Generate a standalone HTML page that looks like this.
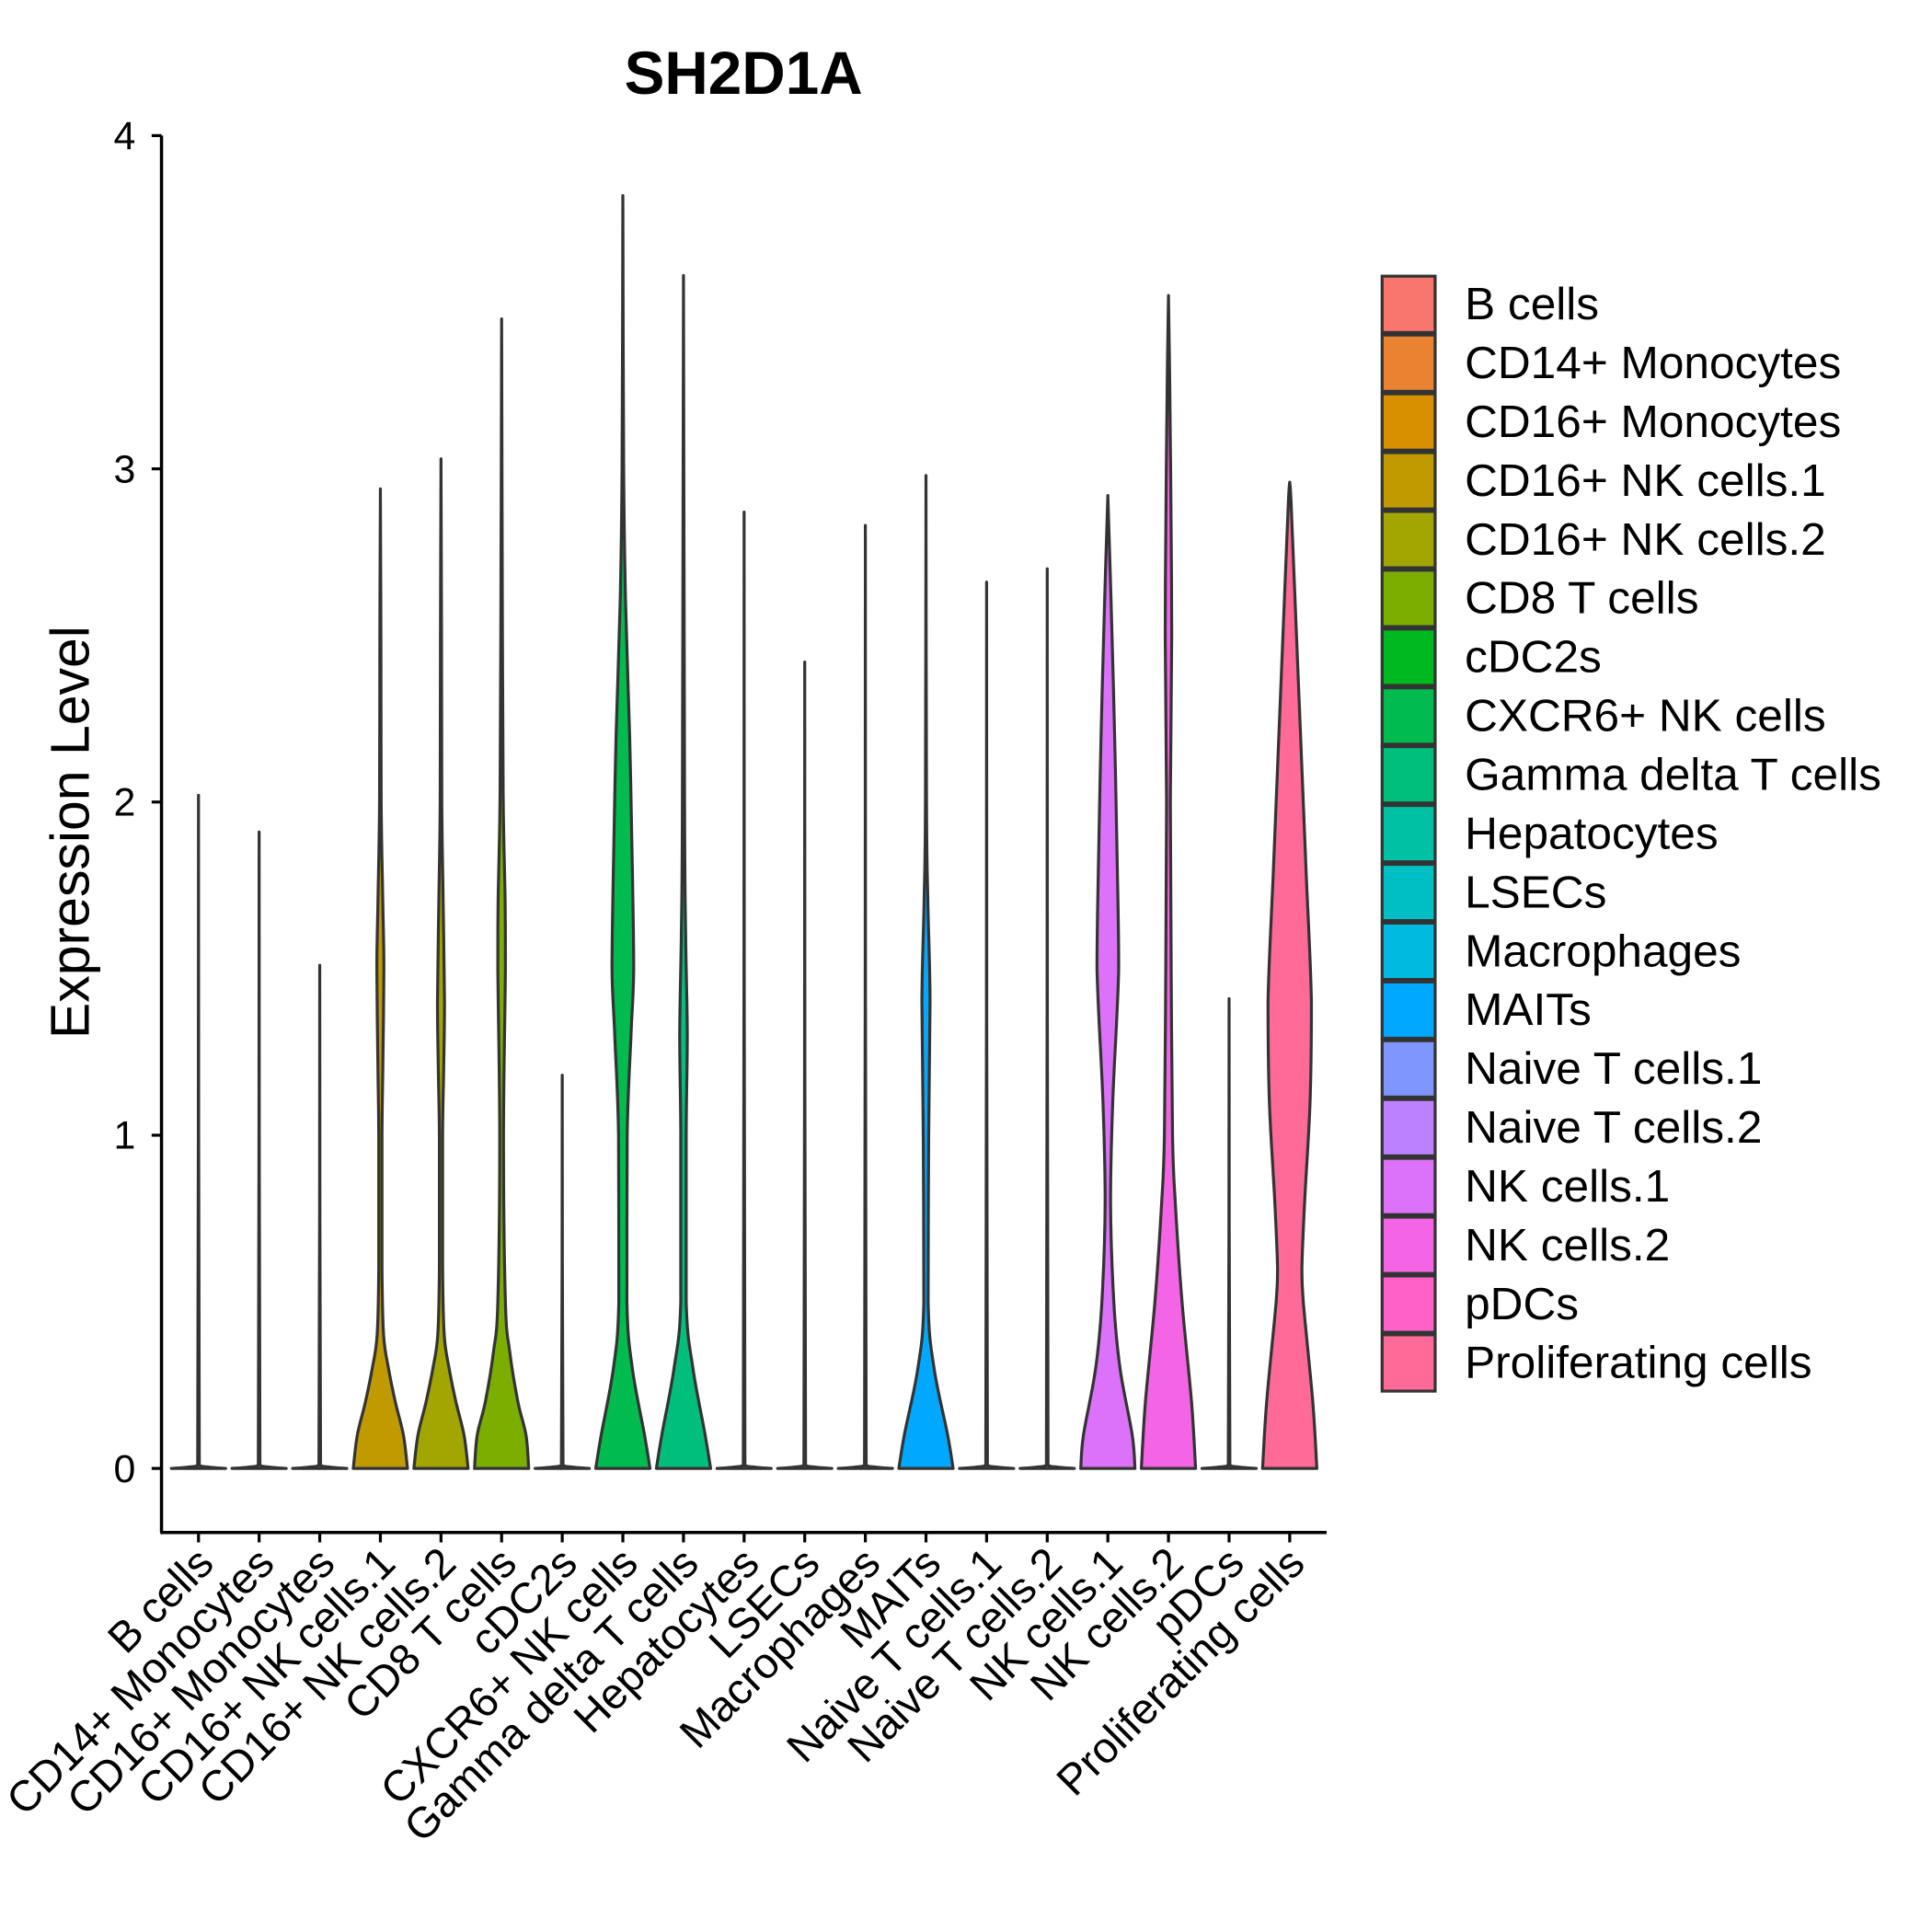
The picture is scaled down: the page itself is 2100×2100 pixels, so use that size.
<!DOCTYPE html>
<html><head><meta charset="utf-8"><style>html,body{margin:0;padding:0;background:#fff}svg{display:block}text{font-family:"Liberation Sans",Arial,sans-serif}</style></head>
<body>
<svg id="chart" width="2100" height="2100" viewBox="0 0 1567 1567" xmlns="http://www.w3.org/2000/svg">
<rect width="1567" height="1567" fill="#fff"/>
<text x="603" y="76" font-size="49" font-weight="bold" text-anchor="middle">SH2D1A</text>
<text transform="translate(72,675) rotate(-90)" font-size="44" text-anchor="middle">Expression Level</text>
<g id="violins"></g>
<g id="axes"></g>
<g id="legend"></g>
</svg>
<script>
const categories=["B cells","CD14+ Monocytes","CD16+ Monocytes","CD16+ NK cells.1","CD16+ NK cells.2","CD8 T cells","cDC2s","CXCR6+ NK cells","Gamma delta T cells","Hepatocytes","LSECs","Macrophages","MAITs","Naive T cells.1","Naive T cells.2","NK cells.1","NK cells.2","pDCs","Proliferating cells"];
const colors=["#F8766D","#EA8331","#D89000","#C09B00","#A3A500","#7CAE00","#00B81F","#00BB4E","#00BF7D","#00C1A3","#00BFC4","#00BAE0","#00A9FF","#7F96FF","#BB81FF","#DC71FA","#F365E4","#FF61C9","#FF6A98"];
const maxValues=[2.02,1.91,1.51,2.94,3.03,3.45,1.18,3.82,3.58,2.87,2.42,2.83,2.98,2.66,2.70,2.92,3.52,1.41,2.96];
const flat=[[0,1],[0.004,0.4],[0.01,0.03]];
const profiles=[
flat,flat,flat,
[[0,1],[0.1,0.85],[0.2,0.55],[0.3,0.3],[0.4,0.12],[0.6,0.06],[1,0.06],[1.2,0.09],[1.5,0.13],[1.7,0.09],[2,0.03],[2.5,0.02]],
[[0,1],[0.1,0.85],[0.2,0.55],[0.3,0.3],[0.4,0.12],[0.6,0.06],[1,0.06],[1.2,0.1],[1.4,0.13],[1.7,0.08],[2,0.03],[2.5,0.02]],
[[0,1],[0.1,0.9],[0.2,0.6],[0.35,0.3],[0.5,0.14],[1,0.07],[1.5,0.14],[1.7,0.13],[2,0.06],[2.5,0.03]],
flat,
[[0,1],[0.1,0.8],[0.3,0.35],[0.5,0.15],[1,0.16],[1.3,0.3],[1.5,0.4],[1.8,0.35],[2.2,0.25],[2.6,0.1],[3,0.03]],
[[0,1],[0.1,0.8],[0.3,0.35],[0.5,0.1],[1,0.1],[1.3,0.14],[1.6,0.08],[2,0.04]],
flat,flat,flat,
[[0,1],[0.1,0.8],[0.3,0.3],[0.5,0.08],[1,0.1],[1.4,0.15],[1.7,0.07],[2,0.02]],
flat,flat,
[[0,1],[0.1,0.9],[0.3,0.45],[0.5,0.22],[0.8,0.1],[1.1,0.18],[1.5,0.4],[1.8,0.35],[2.2,0.25],[2.6,0.12]],
[[0,1],[0.2,0.85],[0.5,0.5],[0.8,0.25],[1,0.15],[1.5,0.1],[2,0.07],[2.5,0.12],[3,0.08],[3.3,0.04]],
flat,
[[0,1],[0.2,0.85],[0.5,0.5],[0.6,0.45],[0.8,0.55],[1.1,0.75],[1.4,0.8],[1.8,0.6],[2.2,0.4],[2.6,0.2],[2.9,0.05]]
];
const yTicks=[0,1,2,3,4];
const NS="http://www.w3.org/2000/svg";
const x0=161,step=49.17,halfW=22;
const xScale=i=>x0+i*step;
const yScale=v=>1191-v*270.25;
function mk(tag,attrs,parent){const e=document.createElementNS(NS,tag);for(const k in attrs)e.setAttribute(k,attrs[k]);parent.appendChild(e);return e;}
const clamp=(v,a,b)=>Math.min(Math.max(v,Math.min(a,b)),Math.max(a,b));
function smoothSide(pts){
  let d="";
  for(let i=0;i<pts.length-1;i++){
    const p0=pts[Math.max(0,i-1)],p1=pts[i],p2=pts[i+1],p3=pts[Math.min(pts.length-1,i+2)];
    const c1=[clamp(p1[0]+(p2[0]-p0[0])/6,p1[0],p2[0]),clamp(p1[1]+(p2[1]-p0[1])/6,p1[1],p2[1])];
    const c2=[clamp(p2[0]-(p3[0]-p1[0])/6,p1[0],p2[0]),clamp(p2[1]-(p3[1]-p1[1])/6,p1[1],p2[1])];
    d+=`C${c1[0].toFixed(2)},${c1[1].toFixed(2)} ${c2[0].toFixed(2)},${c2[1].toFixed(2)} ${p2[0].toFixed(2)},${p2[1].toFixed(2)}`;
  }
  return d;
}
const gv=document.getElementById('violins');
categories.forEach((c,i)=>{
  const pts=profiles[i].concat([[maxValues[i],0]]);
  const cx=xScale(i);
  const right=pts.map(p=>[cx+p[1]*halfW,yScale(p[0])]);
  const left=pts.slice().reverse().map(p=>[cx-p[1]*halfW,yScale(p[0])]);
  const d="M"+right[0][0].toFixed(2)+","+right[0][1].toFixed(2)+smoothSide(right)+smoothSide(left)+"Z";
  const p=mk('path',{d:d,fill:colors[i],stroke:"#333","stroke-width":2.4,"stroke-linejoin":"round"},gv);
  
  
});
const ga=document.getElementById('axes');
const yl=mk('line',{x1:131,y1:110,x2:131,y2:1243,stroke:"#000","stroke-width":2.6},ga);


const xl=mk('line',{x1:130,y1:1243,x2:1076,y2:1243,stroke:"#000","stroke-width":2.6},ga);


yTicks.forEach(t=>{
  const y=yScale(t);
  const l=mk('line',{x1:123,y1:y,x2:131,y2:y,stroke:"#000","stroke-width":2.4},ga);
  
  
  const tx=mk('text',{x:110,y:y+11,"font-size":32,"text-anchor":"end"},ga);
  tx.textContent=t;
  
  
});
categories.forEach((c,i)=>{
  const x=xScale(i);
  const l=mk('line',{x1:x,y1:1243,x2:x,y2:1251,stroke:"#000","stroke-width":2.4},ga);
  
  
  const tx=mk('text',{transform:`translate(${x+14},1270) rotate(-45)`,"font-size":35,"text-anchor":"end"},ga);
  tx.textContent=c;
  
  
});
const gl=document.getElementById('legend');
categories.forEach((c,i)=>{
  const y=223+i*47.7;
  const r=mk('rect',{x:1121,y:y+1,width:43,height:45.7,fill:colors[i],stroke:"#333","stroke-width":2.4},gl);
  
  
  const tx=mk('text',{x:1188,y:y+36,"font-size":37},gl);
  tx.textContent=c;
  
  
});
</script>
</body></html>
